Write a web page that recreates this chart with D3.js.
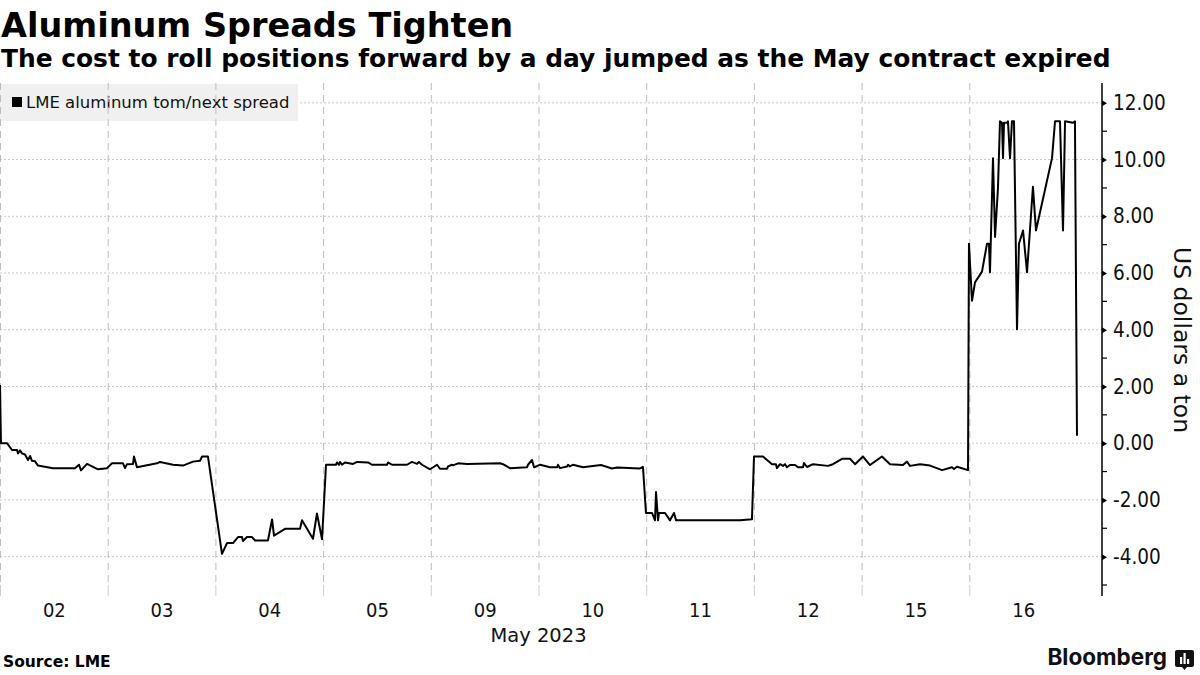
<!DOCTYPE html>
<html>
<head>
<meta charset="utf-8">
<script src="https://cdn.jsdelivr.net/npm/d3@7"></script>
<style>
	body { margin: 0; background: #fff; }
	svg { display: block; font-family: 'DejaVu Sans', sans-serif; }
	.num { font-family: 'DejaVu Sans Condensed', 'DejaVu Sans', sans-serif; }
</style>
</head>
<body>
<svg id="chart" width="1200" height="675"></svg>
<script>
var days = ['02','03','04','05','09','10','11','12','15','16']
var monthLabel = 'May 2023'
var yTicks = [-4,-2,0,2,4,6,8,10,12]
var yMinor = [-5,-3,-1,1,3,5,7,9,11]

// time in trading days since the open of May 2
var spreadTime = [
	0,0.009,0.065,0.111,0.158,0.167,0.186,0.204,0.232,0.260,0.279,0.297,0.325,0.353,0.492,0.696,0.734,0.752,0.808,0.910,0.994,
	1.040,1.142,1.161,1.179,1.235,1.244,1.272,1.458,1.486,1.606,1.699,1.792,1.857,1.876,1.931,
	2.061,2.108,2.163,2.210,2.247,2.256,2.293,2.340,2.368,2.488,2.526,2.544,2.646,2.786,2.804,2.906,2.943,2.990,
	3.027,3.120,3.129,3.148,3.157,3.175,3.203,3.278,3.315,3.417,3.454,3.593,3.603,3.640,3.779,3.825,3.872,3.890,3.918,3.993,
	4.058,4.085,4.150,4.160,4.197,4.206,4.253,4.336,4.643,4.670,4.735,4.893,4.903,4.940,4.958,
	5.014,5.107,5.172,5.181,5.200,5.265,5.274,5.292,5.320,5.413,5.580,5.682,5.729,5.942,5.970,
	5.998,6.054,6.082,6.091,6.110,6.119,6.175,6.221,6.258,6.277,6.871,6.982,
	7.001,7.084,7.168,7.205,7.214,7.242,7.270,7.289,7.307,7.335,7.382,7.409,7.456,7.465,7.493,7.549,7.688,7.734,7.818,7.892,7.939,
	8.013,8.078,8.189,8.264,8.384,8.421,8.449,8.542,8.635,8.747,8.839,8.858,8.886,8.988,
	8.997,9.025,9.053,9.118,9.164,9.183,9.192,9.220,9.239,9.266,9.285,9.304,9.313,9.322,9.350,9.359,9.378,9.396,9.415,9.443,9.461,9.499,9.536,9.591,9.619,9.768,9.796,9.842,9.870,9.889,9.963,9.981,10.000
]
var spreadValue = [
	2.05,0,0,-0.24,-0.24,-0.36,-0.25,-0.36,-0.40,-0.59,-0.45,-0.62,-0.64,-0.79,-0.88,-0.88,-0.76,-0.96,-0.73,-0.92,-0.88,
	-0.71,-0.71,-0.88,-0.74,-0.73,-0.47,-0.85,-0.71,-0.66,-0.76,-0.79,-0.65,-0.62,-0.47,-0.47,
	-3.90,-3.52,-3.52,-3.31,-3.31,-3.45,-3.31,-3.31,-3.43,-3.43,-2.69,-3.26,-3.02,-3.02,-2.72,-3.37,-2.48,-3.39,
	-0.76,-0.76,-0.68,-0.76,-0.66,-0.76,-0.68,-0.73,-0.66,-0.68,-0.76,-0.76,-0.68,-0.76,-0.76,-0.66,-0.73,-0.66,-0.76,-0.92,
	-0.76,-0.90,-0.90,-0.82,-0.76,-0.78,-0.71,-0.73,-0.71,-0.74,-0.88,-0.85,-0.76,-0.59,-0.85,
	-0.76,-0.85,-0.85,-0.76,-0.88,-0.82,-0.76,-0.82,-0.76,-0.85,-0.77,-0.89,-0.86,-0.89,-0.84,
	-2.46,-2.46,-2.72,-1.72,-2.72,-2.46,-2.46,-2.72,-2.46,-2.72,-2.72,-2.68,
	-0.47,-0.47,-0.74,-0.74,-0.88,-0.74,-0.80,-0.74,-0.85,-0.77,-0.77,-0.85,-0.85,-0.70,-0.84,-0.74,-0.80,-0.74,-0.55,-0.55,-0.74,
	-0.47,-0.77,-0.47,-0.74,-0.77,-0.65,-0.80,-0.74,-0.79,-0.95,-0.85,-0.91,-0.83,-0.95,
	7.03,5.02,5.67,6.05,7.03,7.03,6.03,10.05,7.27,8.98,11.35,11.30,10.05,11.30,11.30,11.35,10.05,11.35,11.35,4.02,7.03,7.50,6.03,9.04,7.50,10.05,11.35,11.35,7.50,11.35,11.30,11.35,0.26
]

var svg = d3.select('#chart')
var axisX = 1102
var plotTop = 83, plotBottom = 585

var x = d3.scaleLinear().domain([0, days.length]).range([0, 1077])
var y = d3.scaleLinear().domain([-5, 12.7]).range([plotBottom, plotTop])

// titles
svg.append('text').attr('x', 1).attr('y', 37)
	.style('font-size', '33.5px').style('font-weight', 'bold')
	.text('Aluminum Spreads Tighten')
svg.append('text').attr('x', 1).attr('y', 67)
	.style('font-size', '24.9px').style('font-weight', 'bold')
	.text('The cost to roll positions forward by a day jumped as the May contract expired')

// horizontal grid
svg.append('g').selectAll('line').data(yTicks).join('line')
	.attr('x1', 0).attr('x2', axisX)
	.attr('y1', d => y(d)).attr('y2', d => y(d))
	.attr('stroke', '#c8c8c8').attr('stroke-width', 1).attr('stroke-dasharray', '2,2')

// legend box
var legend = svg.append('g')
legend.append('rect').attr('x', 0).attr('y', 84).attr('width', 298).attr('height', 37).attr('fill', '#f0f0f0')

// vertical day grid
var dayLines = d3.range(0, days.length)
svg.append('g').selectAll('line').data(dayLines).join('line')
	.attr('x1', d => x(d) + 0.5).attr('x2', d => x(d) + 0.5)
	.attr('y1', plotTop).attr('y2', plotBottom)
	.attr('stroke', '#bdbdbd').attr('stroke-width', 1).attr('stroke-dasharray', '7,5')
svg.append('g').selectAll('line').data(dayLines).join('line')
	.attr('x1', d => x(d) + 0.5).attr('x2', d => x(d) + 0.5)
	.attr('y1', plotBottom).attr('y2', plotBottom + 11)
	.attr('stroke', '#cfcfcf').attr('stroke-width', 1)

legend.append('rect').attr('x', 12).attr('y', 97).attr('width', 10).attr('height', 10).attr('fill', '#000')
legend.append('text').attr('x', 26).attr('y', 108)
	.style('font-size', '16.5px').attr('fill', '#111')
	.text('LME aluminum tom/next spread')

// x axis labels
var xAxis = d3.axisBottom(x)
	.tickValues(days.map((d, i) => i + 0.5))
	.tickFormat((d, i) => days[i])
	.tickSize(0).tickPadding(0)
var gx = svg.append('g').attr('transform', 'translate(0,' + 602 + ')').call(xAxis)
gx.select('.domain').remove()
gx.selectAll('text').attr('dy', null).attr('y', 15).attr('class', 'num')
	.style('font-size', '20px').style('font-family', null).attr('fill', '#111')
svg.append('text').attr('x', x(days.length / 2)).attr('y', 642)
	.attr('text-anchor', 'middle').style('font-size', '19.5px').attr('fill', '#111')
	.text(monthLabel)

// y axis
var yAxis = d3.axisRight(y).tickValues(yTicks)
	.tickFormat(d => d.toFixed(2))
	.tickSize(0).tickPadding(11)
var gy = svg.append('g').attr('transform', 'translate(' + axisX + ',0)').call(yAxis)
gy.select('.domain').remove()
gy.selectAll('text').attr('class', 'num').style('font-size', '20.5px').style('font-family', null).attr('fill', '#111')
gy.selectAll('.tick').append('path').attr('d', 'M0,-3L5,0L0,3Z').attr('fill', '#000')
gy.append('g').selectAll('line').data(yMinor).join('line')
	.attr('x1', 0).attr('x2', 5).attr('y1', d => y(d)).attr('y2', d => y(d))
	.attr('stroke', '#000').attr('stroke-width', 1.2)
gy.append('line').attr('x1', 0).attr('x2', 0).attr('y1', plotTop).attr('y2', plotBottom + 11)
	.attr('stroke', '#000').attr('stroke-width', 1.5)

svg.append('text')
	.attr('transform', 'translate(1174,340) rotate(90)')
	.attr('text-anchor', 'middle').style('font-size', '23.5px').attr('fill', '#111')
	.text('US dollars a ton')

// the spread line
var points = spreadTime.map((t, i) => [t, spreadValue[i]])
var line = d3.line().x(d => x(d[0])).y(d => y(d[1]))
svg.append('path').datum(points)
	.attr('d', line)
	.attr('fill', 'none').attr('stroke', '#000').attr('stroke-width', 2)
	.attr('stroke-linejoin', 'round')

// footer
svg.append('text').attr('x', 3).attr('y', 667)
	.style('font-size', '15.5px').style('font-weight', 'bold')
	.text('Source: LME')
svg.append('text').attr('x', 1167).attr('y', 665).attr('text-anchor', 'end')
	.style('font-family', 'Inter, Roboto, sans-serif').style('font-size', '22.5px').style('font-weight', 'bold')
	.attr('fill', '#111')
	.text('Bloomberg')
var logo = svg.append('g').attr('transform', 'translate(1175,650)')
logo.append('path').attr('d', 'M2,0H17Q19,0 19,2V15Q19,17 17,17H12L9.5,20L7,17H2Q0,17 0,15V2Q0,0 2,0Z').attr('fill', '#111')
logo.selectAll('rect').data([[5,7],[8.5,3],[12,9]]).join('rect')
	.attr('x', d => d[0]).attr('y', d => d[1]).attr('width', 2.2).attr('height', d => 14 - d[1])
	.attr('fill', '#fff')
</script>
</body>
</html>
